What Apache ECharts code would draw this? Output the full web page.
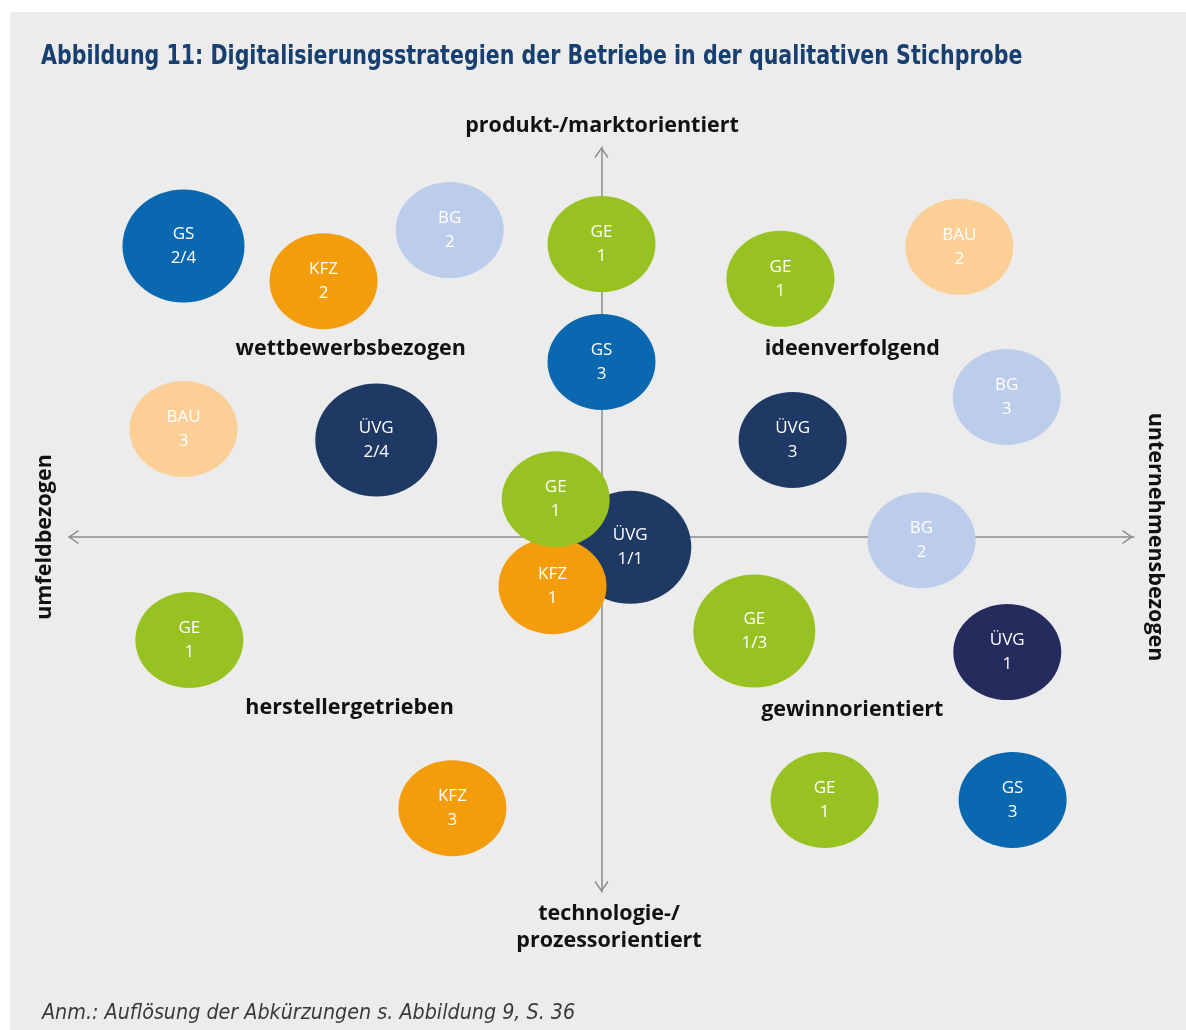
<!DOCTYPE html>
<html>
<head>
<meta charset="utf-8">
<script src="https://cdn.jsdelivr.net/npm/echarts@6/dist/echarts.min.js"></script>
<style>
html,body{margin:0;padding:0;background:#fff;}
#main{width:1186px;height:1030px;}
</style>
</head>
<body>
<div id="main"></div>
<script>
// Betriebe: Kürzel, Nummer, Lage im Koordinatenkreuz
var codes  = ['GS','KFZ','BG','GE','GS','GE','BAU','BG','BAU','ÜVG','ÜVG','ÜVG','KFZ','GE','BG','GE','ÜVG','GE','KFZ','GE','GS'];
var nums   = ['2/4','2','2','1','3','1','2','3','3','2/4','3','1/1','1','1','2','1/3','1','1','3','1','3'];
var xVals  = [-7.85,-5.22,-2.85,0,0,3.36,6.72,7.61,-7.85,-4.23,3.59,0.54,-0.92,-0.86,6.01,2.87,7.62,-7.74,-2.80,4.19,7.72];
var yVals  = [7.46,6.56,7.87,7.51,4.49,6.62,7.44,3.59,2.77,2.49,2.49,-0.26,-1.26,0.97,-0.08,-2.41,-2.95,-2.64,-6.95,-6.74,-6.74];

var quadNames = ['wettbewerbsbezogen','ideenverfolgend','herstellergetrieben','gewinnorientiert'];
var quadX     = [-4.71,4.71,-4.73,4.71];
var quadY     = [4.82,4.82,-4.38,-4.44];

var axisTop    = 'produkt-/marktorientiert';
var axisBottom = 'technologie-/\nprozessorientiert';
var axisLeft   = 'umfeldbezogen';
var axisRight  = 'unternehmensbezogen';

var palette = {
    'GS':'#0968b0',
    'KFZ':'#f39c0c',
    'BG':'#bccdeb',
    'GE':'#98c222',
    'BAU':'#fbcf95',
    'ÜVG':'#1e3964'
};
var shade = {16:'#252b5d'}; //ÜVG 1 etwas dunkler

var chevron = 'path://M0,10L7,0L14,10L12.8,10.9L7,2.5L1.2,10.9Z';

var chart = echarts.init(document.getElementById('main'));

var bubbles = [];
for(var i=0;i<codes.length;i++){
    var big = nums[i].indexOf('/')>-1;
    bubbles.push({
        value:[xVals[i],yVals[i]],
        name:codes[i]+'\n'+nums[i],
        symbolSize: big ? [122,113] : [108,96],
        itemStyle:{color: shade[i] || palette[codes[i]], opacity:1}
    });
}

var quads = [];
for(var i=0;i<quadNames.length;i++){
    quads.push({value:[quadX[i],quadY[i]],name:quadNames[i]});
}

var boldFont = "'Open Sans', 'Noto Sans', sans-serif";
var narrowFont = "'Liberation Sans Narrow', 'DejaVu Sans Condensed', sans-serif";

var option = {
    backgroundColor:'#ffffff',
    animation:false,
    grid:{left:69,right:52,top:147,bottom:138},
    xAxis:{
        type:'value', min:-10, max:10,
        splitLine:{show:false}, axisTick:{show:false}, axisLabel:{show:false},
        axisLine:{onZero:true, symbol:[chevron,chevron], symbolSize:[16,11], symbolOffset:[4.5,-6.5],
            lineStyle:{color:'#8c8c8c',width:1.5}}
    },
    yAxis:{
        type:'value', min:-9.1, max:10,
        splitLine:{show:false}, axisTick:{show:false}, axisLabel:{show:false},
        axisLine:{onZero:true, symbol:[chevron,chevron], symbolSize:[16,11], symbolOffset:[5.5,-5.5],
            lineStyle:{color:'#8c8c8c',width:1.5}}
    },
    series:[
        {
            type:'scatter',
            data:bubbles,
            symbol:'circle',
            z:3,
            itemStyle:{opacity:1},
            emphasis:{disabled:true},
            label:{
                show:true,
                formatter:'{b}',
                color:'#ffffff',
                fontFamily:"'Open Sans', sans-serif",
                fontSize:17,
                lineHeight:24
            }
        },
        {
            type:'scatter',
            data:quads,
            symbolSize:0,
            z:4,
            itemStyle:{opacity:1},
            label:{
                show:true,
                formatter:'{b}',
                color:'#111111',
                fontFamily:boldFont,
                fontWeight:'bold',
                fontSize:21.5
            }
        }
    ],
    graphic:[
        {type:'rect', z:-10, shape:{x:10,y:12,width:1176,height:1018}, style:{fill:'#ececec'}},
        {type:'text', x:41, y:57, scaleX:0.88, style:{
            text:'Abbildung 11: Digitalisierungsstrategien der Betriebe in der qualitativen Stichprobe',
            fill:'#173f6f', fontFamily:narrowFont,
            fontWeight:'bold', fontSize:26, verticalAlign:'middle'}},
        {type:'text', x:602, y:126, style:{text:axisTop, fill:'#111111', fontFamily:boldFont,
            fontWeight:'bold', fontSize:21.5, align:'center', verticalAlign:'middle'}},
        {type:'text', x:609, y:927, style:{text:axisBottom, fill:'#111111', fontFamily:boldFont,
            fontWeight:'bold', fontSize:21.5, lineHeight:27, align:'center', verticalAlign:'middle'}},
        {type:'text', x:45, y:537, rotation:Math.PI/2, style:{text:axisLeft, fill:'#111111', fontFamily:boldFont,
            fontWeight:'bold', fontSize:21.5, align:'center', verticalAlign:'middle'}},
        {type:'text', x:1155, y:537, rotation:-Math.PI/2, style:{text:axisRight, fill:'#111111', fontFamily:boldFont,
            fontWeight:'bold', fontSize:21.5, align:'center', verticalAlign:'middle'}},
        {type:'text', x:42, y:1013, style:{text:'Anm.: Auflösung der Abkürzungen s. Abbildung 9, S. 36',
            fill:'#3a3a3a', fontFamily:narrowFont,
            fontStyle:'italic', fontSize:21.3, verticalAlign:'middle'}}
    ]
};

chart.setOption(option);
</script>
</body>
</html>
